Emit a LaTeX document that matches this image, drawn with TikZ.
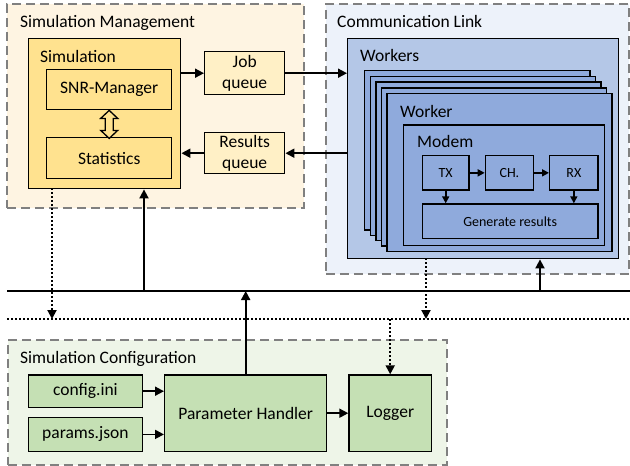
\documentclass[tikz,border=0pt]{standalone}
\usepackage{fontspec}
\setmainfont{Carlito}
\usetikzlibrary{arrows.meta,calc}

\definecolor{mgmtbg}{HTML}{FEF4E2}
\definecolor{simfill}{HTML}{FFE28F}
\definecolor{qfill}{HTML}{FFF0C6}
\definecolor{commbg}{HTML}{EDF2FA}
\definecolor{workersfill}{HTML}{B4C7E7}
\definecolor{workerfill}{HTML}{8FAADC}
\definecolor{confbg}{HTML}{EEF5E8}
\definecolor{conffill}{HTML}{C5E0B4}
\definecolor{groupline}{HTML}{808080}

\tikzset{
  spanbox/.style n args={4}{anchor=north west, at={(#1,#2)},
    minimum width={(#3)-(#1)}, minimum height={(#4)-(#2)}},
  box/.style={draw=black, line width=1.4pt, inner sep=0pt, align=center,
    font=\fontsize{17.5}{21}\selectfont},
  smallbox/.style={box, font=\fontsize{14}{17}\selectfont},
  group/.style={draw=groupline, line width=1.5pt, dash pattern=on 9pt off 5pt},
  title/.style={anchor=base west, inner sep=0pt, font=\fontsize{17.5}{21}\selectfont},
  arr/.style={line width=1.8pt, -{Triangle[length=9pt,width=9pt]}},
  smallarr/.style={line width=1.6pt, -{Triangle[length=7pt,width=7pt]}},
  bus/.style={line width=2pt},
  dotbus/.style={line width=2pt, dash pattern=on 2pt off 2pt},
  dotarr/.style={line width=2pt, dash pattern=on 2pt off 2pt,
    -{Triangle[length=9pt,width=9pt]}},
  dblarrow/.style={draw=black, fill=simfill, line width=1.3pt, line join=miter},
}

\begin{document}
\begin{tikzpicture}[x=1pt,y=-1pt]
\useasboundingbox (0,0) rectangle (630,466);

% ---- group backgrounds ----
\node[group, fill=mgmtbg, spanbox={6}{3}{303}{207}] (mgmt) {};
\node[group, fill=commbg, spanbox={325}{3}{628}{273}] (comm) {};
\node[group, fill=confbg, spanbox={7}{339}{446}{464}] (conf) {};

\node[title] (mgmtT) at (20,27) {Simulation Management};
\node[title] (commT) at (337,27) {Communication Link};
\node[title] (confT) at (20,363) {Simulation Configuration};

% ---- simulation management ----
\node[box, fill=simfill, spanbox={28}{38}{180}{188}] (sim) {};
\node[title] (simT) at (40,62) {Simulation};
\node[box, fill=simfill, spanbox={46}{69}{171}{109}] (snr) {SNR-Manager};
\node[box, fill=simfill, spanbox={46}{137}{171}{178}] (stats) {Statistics};
\node[box, fill=qfill, spanbox={204}{51}{284}{94}] (jobq) {Job\\queue};
\node[box, fill=qfill, spanbox={204}{132}{284}{173}] (resq) {Results\\queue};

% hollow double arrow between SNR-Manager and Statistics
\draw[dblarrow] (snr.south) -- ++(8.5,8) -- ++(-4.5,0) -- ++(0,12) -- ++(4.5,0)
  -- ++(-8.5,8) -- ++(-8.5,-8) -- ++(4.5,0) -- ++(0,-12) -- ++(-4.5,0) -- cycle;

% ---- communication link ----
\node[box, fill=workersfill, spanbox={347}{38}{618}{258}] (workers) {};
\node[title] (workersT) at (360,61) {Workers};
\foreach \i in {0,...,4}{
  \node[box, fill=workerfill,
    spanbox={364+5.6*\i}{70+5.7*\i}{589.3+5.45*\i}{229.3+5.35*\i}] (w\i) {};
}
\node[title] (workerT) at (400,117) {Worker};
\node[box, fill=workerfill, spanbox={402.7}{124.3}{604}{245}] (modem) {};
\node[title] (modemT) at (417,147) {Modem};
\node[smallbox, fill=workerfill, spanbox={421.7}{155}{468.3}{189.3}] (tx) {TX};
\node[smallbox, fill=workerfill, spanbox={484.7}{155}{532.7}{189.3}] (ch) {CH.};
\node[smallbox, fill=workerfill, spanbox={549}{155}{597.3}{189.3}] (rx) {RX};
\node[smallbox, fill=workerfill, spanbox={421.7}{203.3}{597.3}{237.7}] (gen) {Generate results};

\draw[smallarr] (tx) -- (ch);
\draw[smallarr] (ch) -- (rx);
\draw[smallarr] (tx.south) -- (tx.south |- gen.north);
\draw[smallarr] (rx.south) -- (rx.south |- gen.north);

% ---- simulation configuration ----
\node[box, fill=conffill, spanbox={27.7}{374.3}{141.7}{406.7}] (cfg) {config.ini};
\node[box, fill=conffill, spanbox={27.7}{416.7}{141.7}{450.7}] (par) {params.json};
\node[box, fill=conffill, spanbox={164}{374.3}{326}{450.7}] (ph) {Parameter Handler};
\node[box, fill=conffill, spanbox={348.3}{374.3}{430.7}{450.7}] (log) {Logger};

\draw[arr] (cfg.east) -- (cfg.east -| ph.west);
\draw[arr] (par.east) -- (par.east -| ph.west);
\draw[arr] (ph) -- (log);

% ---- queues ----
\draw[arr] (sim.east |- jobq.west) -- (jobq.west);
\draw[arr] (jobq.east) -- (workers.west |- jobq.east);
\draw[arr] (workers.west |- resq.east) -- (resq.east);
\draw[arr] (resq.west) -- (sim.east |- resq.west);

% ---- shared buses ----
\coordinate (busL) at (7,291);
\coordinate (busR) at (630,291);
\coordinate (dotL) at (7,319);
\coordinate (dotR) at (630,319);
\draw[bus] (busL) -- (busR);
\draw[dotbus] (dotL) -- (dotR);

\coordinate (simIn) at (144,291);
\coordinate (wrkIn) at (540,291);
\draw[arr] (simIn) -- (simIn |- sim.south);
\draw[arr] (wrkIn) -- (wrkIn |- workers.south);
\draw[arr] (ph.north) -- (ph.north |- busL);

\coordinate (simOut) at (52,188);
\coordinate (wrkOut) at (426,258);
\draw[dotarr] (simOut) -- (simOut |- dotL);
\draw[dotarr] (wrkOut) -- (wrkOut |- dotL);
\draw[dotarr] (log.north |- dotL) -- (log.north);
\end{tikzpicture}
\end{document}
